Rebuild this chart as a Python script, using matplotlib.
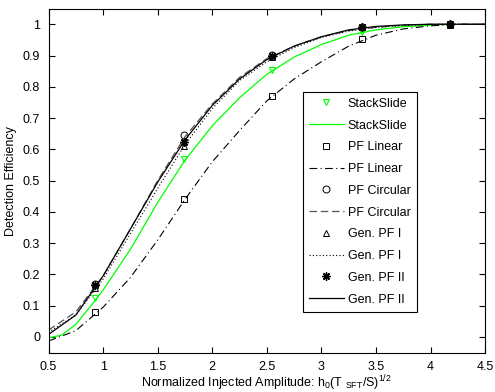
import matplotlib
matplotlib.use("Agg")
import matplotlib.pyplot as plt

plt.rcParams['font.family'] = ['Liberation Sans', 'DejaVu Sans']
plt.rcParams['mathtext.default'] = 'regular'

# measured points
amp = [0.93, 1.74, 2.55, 3.37, 4.18]
ss_pts = [0.124, 0.568, 0.853, 0.976, 1.0]
lin_pts = [0.079, 0.442, 0.771, 0.954, 0.998]
circ_pts = [0.168, 0.645, 0.901, 0.99, 1.0]
gen1_pts = [0.158, 0.611, 0.894, 0.99, 1.0]
gen2_pts = [0.165, 0.624, 0.897, 0.99, 1.0]

# fitted curves
ss_x = [0.5, 0.62, 0.75, 0.93, 1.0, 1.25, 1.5, 1.75, 2.0, 2.25, 2.5, 2.75,
        3.0, 3.25, 3.5, 3.75, 4.0, 4.18]
ss_fit = [-0.003, 0.006, 0.04, 0.118, 0.15, 0.28, 0.43, 0.565, 0.675, 0.765,
          0.84, 0.895, 0.935, 0.965, 0.982, 0.992, 0.997, 1.0]

fx = [0.5, 0.75, 1.0, 1.25, 1.5, 1.75, 2.0, 2.25, 2.5, 2.75, 3.0, 3.25,
      3.5, 3.75, 4.0, 4.25, 4.5]
lin_fit = [-0.013, 0.02, 0.095, 0.19, 0.31, 0.44, 0.56, 0.66, 0.755, 0.825,
           0.88, 0.93, 0.965, 0.985, 0.995, 1.0, 1.0]
circ_fit = [0.022, 0.08, 0.195, 0.345, 0.5, 0.64, 0.745, 0.83, 0.89, 0.93,
            0.96, 0.98, 0.99, 0.997, 1.0, 1.0, 1.0]
gen1_fit = [0.015, 0.07, 0.185, 0.33, 0.475, 0.615, 0.73, 0.82, 0.88, 0.925,
            0.958, 0.978, 0.99, 0.996, 1.0, 1.0, 1.0]
gen2_fit = [0.008, 0.07, 0.195, 0.345, 0.495, 0.63, 0.74, 0.825, 0.887, 0.93,
            0.96, 0.982, 0.993, 0.998, 1.0, 1.0, 1.0]

green = '#00ff00'

fig = plt.figure(figsize=(4.95, 3.92), dpi=100)
ax = fig.add_axes([0.098, 0.1005, 0.882, 0.8775])

ax.plot(amp, ss_pts, 'v', color=green, mfc='none', ms=5, mew=0.8, label='StackSlide')
ax.plot(ss_x, ss_fit, '-', color=green, lw=0.9, label='StackSlide')
ax.plot(amp, lin_pts, 's', color='k', mfc='none', ms=5, mew=0.7, label='PF Linear')
ax.plot(fx, lin_fit, color='k', lw=0.8, dashes=(7, 3, 1, 3), label='PF Linear')
ax.plot(amp, circ_pts, 'o', color='k', mfc='none', ms=5, mew=0.7, label='PF Circular')
ax.plot(fx, circ_fit, color='#555555', lw=0.9, dashes=(6, 3), label='PF Circular')
ax.plot(amp, gen1_pts, '^', color='k', mfc='none', ms=5, mew=0.7, label='Gen. PF I')
ax.plot(fx, gen1_fit, color='k', lw=0.8, dashes=(1, 2), label='Gen. PF I')
ax.plot(amp, gen2_pts, marker=(8, 2, 0), ls='none', color='k', ms=6, mew=1.0, label='Gen. PF II')
ax.plot(fx, gen2_fit, '-', color='k', lw=0.9, label='Gen. PF II')

ax.set_xlim(0.5, 4.5)
ax.set_ylim(-0.05, 1.05)
ax.set_xticks([0.5, 1, 1.5, 2, 2.5, 3, 3.5, 4, 4.5])
ax.set_xticklabels(['0.5', '1', '1.5', '2', '2.5', '3', '3.5', '4', '4.5'])
ax.set_yticks([0, 0.1, 0.2, 0.3, 0.4, 0.5, 0.6, 0.7, 0.8, 0.9, 1])
ax.set_yticklabels(['0', '0.1', '0.2', '0.3', '0.4', '0.5', '0.6', '0.7', '0.8', '0.9', '1'])
ax.tick_params(direction='in', top=True, right=True, length=4, width=0.8,
               labelsize=9, pad=6)
for s in ax.spines.values():
    s.set_linewidth(0.8)

ax.set_xlabel('Normalized Injected Amplitude: h$_0$(T $_{SFT}$/S)$^{1/2}$', fontsize=9, labelpad=0)
ax.set_ylabel('Detection Efficiency', fontsize=9, labelpad=4)

leg = ax.legend(loc='upper left', bbox_to_anchor=(0.568, 0.777), fontsize=9,
                frameon=True, fancybox=False, edgecolor='k', framealpha=1,
                handlelength=2.8, labelspacing=0.78, borderpad=0.5, handletextpad=0.3)
leg.get_frame().set_linewidth(0.8)

fig.savefig('out.png', dpi=100)
